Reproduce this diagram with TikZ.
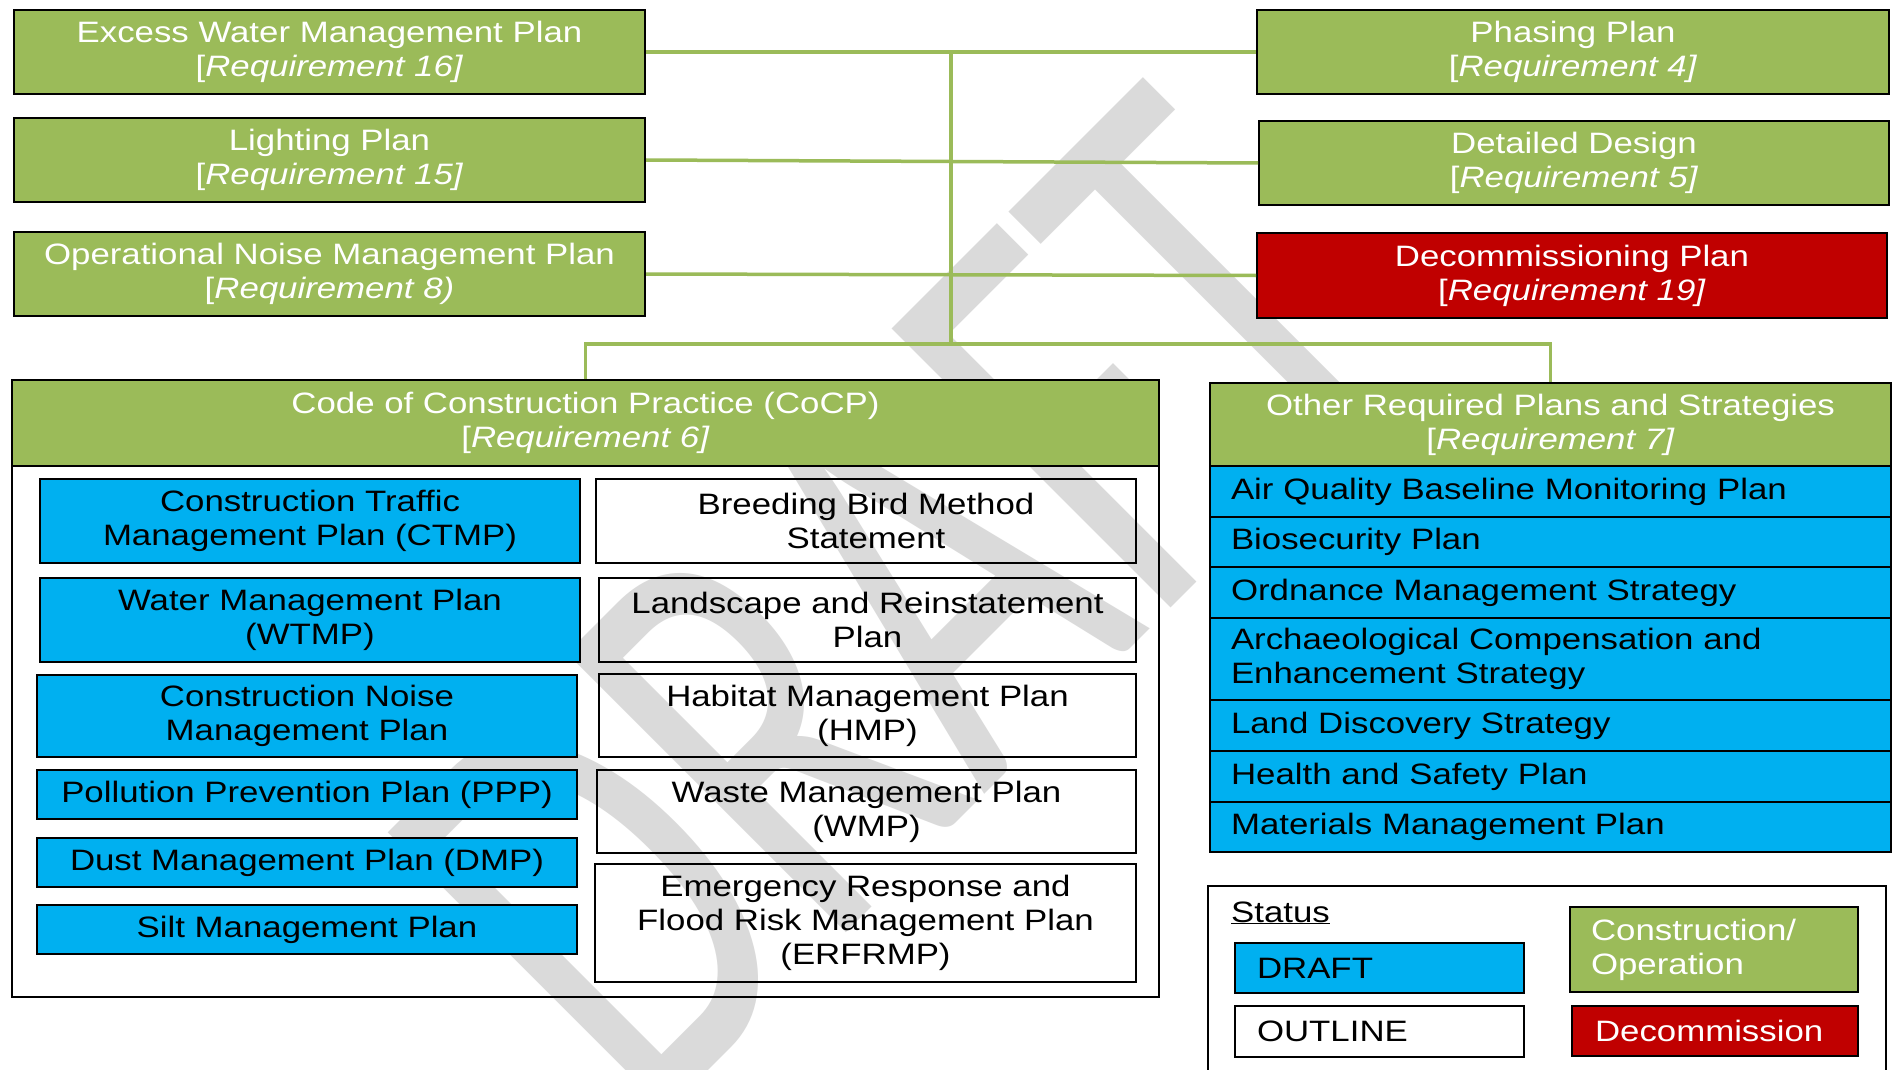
\documentclass[tikz,border=0pt]{standalone}
\usepackage{fontspec}
\setmainfont[FakeStretch=1.18]{Liberation Sans}
\newfontfamily\wmfont{Carlito}
\definecolor{cgreen}{HTML}{9BBB59}
\definecolor{cblue}{HTML}{00B0F0}
\definecolor{cred}{HTML}{C00000}
\definecolor{wmgray}{HTML}{DADADA}
\newcommand\mainsz{\fontsize{29.5}{34}\selectfont}
\tikzset{
  box/.style={draw=black, line width=2pt, inner sep=0pt, align=center, font=\mainsz},
  gbox/.style={box, fill=cgreen, text=white},
  rbox/.style={box, fill=cred, text=white},
  bbox/.style={box, fill=cblue, text=black},
  wbox/.style={box, text=black},
  lrow/.style={box, fill=cblue, text=black, text width=639pt, inner xsep=21pt, align=left},
  link/.style={draw=cgreen, line width=3.5pt},
  wmark/.style={text=wmgray, font={\wmfont\fontsize{410}{410}\selectfont}, inner sep=0pt},
}
\begin{document}
\begin{tikzpicture}[x=1pt,y=-1pt]
\path[use as bounding box] (0,0) rectangle (1893,1070);
\clip (0,0) rectangle (1893,1070);
\fill[white] (0,0) rectangle (1893,1070);

% watermark
\begin{scope}[shift={(897,603)}]
\node[wmark, rotate=45, yscale=1.5, transform shape] (wm) at (0,0) {DRAFT};
\end{scope}

% top boxes
\node[gbox, minimum width=631pt, minimum height=84pt] (excess) at (329.5,52) {Excess Water Management Plan\\{[}\textit{Requirement 16]}};
\node[gbox, minimum width=631pt, minimum height=84pt] (lighting) at (329.5,160) {Lighting Plan\\{[}\textit{Requirement 15]}};
\node[gbox, minimum width=631pt, minimum height=84pt] (opnoise) at (329.5,274) {Operational Noise Management Plan\\{[}\textit{Requirement 8)}};
\node[gbox, minimum width=632pt, minimum height=84pt] (phasing) at (1573,52) {Phasing Plan\\{[}\textit{Requirement 4]}};
\node[gbox, minimum width=630pt, minimum height=84pt] (detailed) at (1574,163) {Detailed Design\\{[}\textit{Requirement 5]}};
\node[rbox, minimum width=630pt, minimum height=85pt] (decom) at (1572,275.5) {Decommissioning Plan\\{[}\textit{Requirement 19]}};

% CoCP frame
\node[draw=black, line width=2pt, minimum width=1147pt, minimum height=617pt, inner sep=0pt] (cocp) at (585.5,688.5) {};
\node[gbox, minimum width=1147pt, minimum height=86pt] (cocphead) at (585.5,423) {Code of Construction Practice (CoCP)\\{[}\textit{Requirement 6]}};

% Other frame
\node[gbox, minimum width=681pt, minimum height=83pt] (otherhead) at (1550.5,424.5) {Other Required Plans and Strategies\\{[}\textit{Requirement 7]}};

% connectors
\coordinate (hubbot) at (951,344);
\coordinate (hubtop) at (hubbot |- excess.east);
\draw[link] (excess.east) -- (phasing.west);
\draw[link] (lighting.east) -- (detailed.west);
\draw[link] (opnoise.east) -- (decom.west);
\draw[link] (hubtop) -- (hubbot);
\draw[link] (cocphead.north) |- (hubbot) -| (otherhead.north);

% CoCP left column
\node[bbox, minimum width=540pt, minimum height=84pt] (ctmp) at (310,521) {Construction Traffic\\Management Plan (CTMP)};
\node[bbox, minimum width=540pt, minimum height=84pt] (wtmp) at (310,620) {Water Management Plan\\(WTMP)};
\node[bbox, minimum width=540pt, minimum height=82pt] (cnmp) at (307,716) {Construction Noise\\Management Plan};
\node[bbox, minimum width=540pt, minimum height=49pt] (ppp) at (307,794.5) {Pollution Prevention Plan (PPP)};
\node[bbox, minimum width=540pt, minimum height=49pt] (dmp) at (307,862.5) {Dust Management Plan (DMP)};
\node[bbox, minimum width=540pt, minimum height=49pt] (silt) at (307,929.5) {Silt Management Plan};

% CoCP right column
\node[wbox, minimum width=540pt, minimum height=84pt] (bbms) at (866,521) {Breeding Bird Method\\Statement};
\node[wbox, minimum width=537pt, minimum height=84pt] (lrp) at (867.5,620) {Landscape and Reinstatement\\Plan};
\node[wbox, minimum width=537pt, minimum height=83pt] (hmp) at (867.5,715.5) {Habitat Management Plan\\(HMP)};
\node[wbox, minimum width=539pt, minimum height=83pt] (wmp) at (866.5,811.5) {Waste Management Plan\\(WMP)};
\node[wbox, minimum width=541pt, minimum height=118pt] (erf) at (865.5,923) {Emergency Response and\\Flood Risk Management Plan\\(ERFRMP)};

% Other rows
\node[lrow, minimum height=51pt] (r1) at (1550.5,491.5) {Air Quality Baseline Monitoring Plan};
\node[lrow, minimum height=50pt] (r2) at (1550.5,542) {Biosecurity Plan};
\node[lrow, minimum height=51pt] (r3) at (1550.5,592.5) {Ordnance Management Strategy};
\node[lrow, minimum height=82pt] (r4) at (1550.5,659) {Archaeological Compensation and\\Enhancement Strategy};
\node[lrow, minimum height=51pt] (r5) at (1550.5,725.5) {Land Discovery Strategy};
\node[lrow, minimum height=51pt] (r6) at (1550.5,776.5) {Health and Safety Plan};
\node[lrow, minimum height=50pt] (r7) at (1550.5,827) {Materials Management Plan};

% legend
\draw[line width=2pt] (1208,1095) -- (1208,886) -- (1886,886) -- (1886,1095);
\node[font=\mainsz, anchor=base west, inner sep=0pt] (status) at (1231,922) {\underline{Status}};
\node[box, fill=cblue, text=black, text width=245pt, inner xsep=22pt, align=left, minimum height=50pt] (draft) at (1379.5,968) {DRAFT};
\node[box, text=black, text width=245pt, inner xsep=22pt, align=left, minimum height=51pt] (outline) at (1379.5,1031.5) {OUTLINE};
\node[box, fill=cgreen, text=white, text width=246pt, inner xsep=21pt, align=left, minimum height=85pt] (constr) at (1714,949.5) {Construction/\\Operation};
\node[box, fill=cred, text=white, text width=240pt, inner xsep=23pt, align=left, minimum height=50pt] (decleg) at (1715,1031) {Decommission};
\end{tikzpicture}
\end{document}
